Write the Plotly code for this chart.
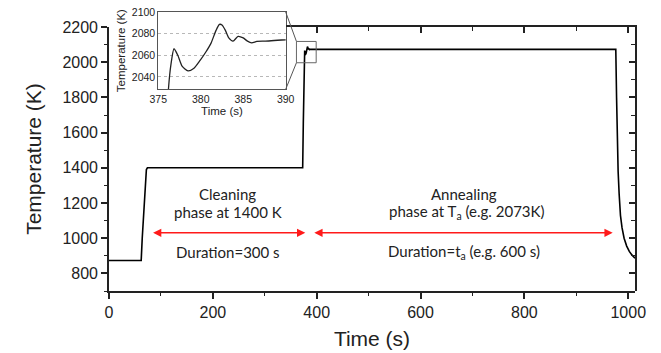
import plotly.graph_objects as go

# ---------------- data ----------------
time_s = [0, 62, 64, 72, 74, 373, 374.2, 375.4, 376.2, 376.5, 376.85, 377.3, 377.8,
          378.5, 379.2, 379.9, 380.6, 381.2, 381.8, 382.2, 382.5, 382.9, 383.3,
          383.8, 384.4, 385.0, 385.5, 386.0, 386.6, 387.5, 976, 977.5, 979, 980.5,
          982.5, 985, 988, 992, 997, 1002, 1007, 1013]
temp_k = [873, 873, 1000, 1390, 1400, 1400, 1650, 1900, 2029, 2052, 2066, 2060, 2050,
          2045.5, 2048, 2055, 2063, 2071, 2083, 2088.5, 2088, 2083, 2076,
          2073, 2077.5, 2076, 2073, 2071.5, 2072.8, 2073, 2073, 1800, 1500, 1380,
          1250, 1130, 1060, 1000, 955, 925, 905, 886]

x_ticks = [0, 200, 400, 600, 800, 1000]
y_ticks = [800, 1000, 1200, 1400, 1600, 1800, 2000, 2200]
inset_x_ticks = [375, 380, 385, 390]
inset_y_ticks = [2040, 2060, 2080, 2100]

phase_labels = ["Cleaning", "phase at 1400 K", "Duration=300 s"]
anneal_labels = ["Annealing", "phase at T<sub>a</sub> (e.g. 2073K)",
                 "Duration=t<sub>a</sub> (e.g. 600 s)"]

# ---------------- layout constants ----------------
XR = [0, 1013]
YR = [700, 2200]
XD = [0, 1]
YD = [0, 0.9462]
IXR = [375, 390]
IYR = [2028.5, 2100]
IXD = [0.0937, 0.3359]
IYD = [0.723, 1.0]
BOX = dict(x0=361, x1=399, y0=1997, y1=2118)


def px_x(t):
    return XD[0] + (t - XR[0]) / (XR[1] - XR[0]) * (XD[1] - XD[0])


def px_y(v):
    return YD[0] + (v - YR[0]) / (YR[1] - YR[0]) * (YD[1] - YD[0])


AX = "Liberation Sans"
TXT = "Lato"
LC = "#222222"

fig = go.Figure()
fig.add_trace(go.Scatter(x=time_s, y=temp_k, mode="lines",
                         line=dict(color="black", width=1.6),
                         xaxis="x", yaxis="y", showlegend=False, hoverinfo="skip"))
fig.add_trace(go.Scatter(x=time_s, y=temp_k, mode="lines",
                         line=dict(color="#222", width=1.3, shape="spline", smoothing=0.6),
                         xaxis="x2", yaxis="y2", showlegend=False, hoverinfo="skip"))
# dummy trace for the inside-tick top/right frame axes
fig.add_trace(go.Scatter(x=[None], y=[None], xaxis="x3", yaxis="y3", showlegend=False))

t_cut = XR[0] + (IXD[1] - XD[0]) / (XD[1] - XD[0]) * (XR[1] - XR[0])

fig.update_layout(
    width=661, height=353,
    margin=dict(l=109, r=26, t=12, b=62, autoexpand=False),
    paper_bgcolor="white", plot_bgcolor="rgba(0,0,0,0)",
    xaxis=dict(domain=XD, range=XR, anchor="y", tickvals=x_ticks, automargin=False,
               ticks="outside", ticklen=6, tickwidth=1.5, tickcolor=LC,
               minor=dict(ticks="outside", ticklen=3, tickwidth=1.2, dtick=100, tick0=0, tickcolor=LC),
               showline=True, linewidth=1.6, linecolor=LC, showgrid=False, zeroline=False,
               tickfont=dict(family=AX, size=16, color=LC),
               title=dict(text="Time (s)", font=dict(family=AX, size=21, color=LC), standoff=11)),
    yaxis=dict(domain=YD, range=YR, anchor="x", tickvals=y_ticks, automargin=False,
               ticks="outside", ticklen=6, tickwidth=1.5, tickcolor=LC,
               minor=dict(ticks="outside", ticklen=3, tickwidth=1.2, dtick=100, tick0=0, tickcolor=LC),
               showline=True, linewidth=1.6, linecolor=LC, showgrid=False, zeroline=False,
               tickfont=dict(family=AX, size=16, color=LC),
               title=dict(text="Temperature (K)", font=dict(family=AX, size=21, color=LC), standoff=15)),
    xaxis3=dict(domain=[IXD[1], XD[1]], range=[t_cut, XR[1]], anchor="y3", side="top",
                tick0=0, dtick=200, ticks="inside", ticklen=6, tickwidth=1.5, automargin=False,
                tickcolor=LC,
                minor=dict(ticks="inside", ticklen=4, tickwidth=1.2, dtick=100, tick0=0, tickcolor=LC),
                showticklabels=False, showline=True, linewidth=1.6, linecolor=LC,
                showgrid=False, zeroline=False),
    yaxis3=dict(domain=YD, range=YR, anchor="x3", side="right", automargin=False,
                tickvals=y_ticks, ticks="inside", ticklen=6, tickwidth=1.5, tickcolor=LC,
                minor=dict(ticks="inside", ticklen=4, tickwidth=1.2, dtick=100, tick0=0, tickcolor=LC),
                showticklabels=False, showline=True, linewidth=1.6, linecolor=LC,
                showgrid=False, zeroline=False),
    xaxis2=dict(domain=IXD, range=IXR, anchor="y2", tickvals=inset_x_ticks, ticks="",
                showline=True, mirror=True, linewidth=1, linecolor="#555", automargin=False,
                showgrid=False, zeroline=False,
                tickfont=dict(family=AX, size=10.5, color=LC),
                title=dict(text="Time (s)", font=dict(family=AX, size=11.5, color=LC), standoff=1)),
    yaxis2=dict(domain=IYD, range=IYR, anchor="x2", tickvals=inset_y_ticks, ticks="",
                showline=True, mirror=True, linewidth=1, linecolor="#555", automargin=False,
                showgrid=True, gridcolor="#b8b8b8", griddash="dot", gridwidth=1, zeroline=False,
                tickfont=dict(family=AX, size=10.5, color=LC),
                title=dict(text="Temperature (K)", font=dict(family=AX, size=11.5, color=LC), standoff=3)),
)

# zoom box in main axes and connector lines to the inset
fig.add_shape(type="rect", xref="x", yref="y", line=dict(color="#666", width=1), **BOX)
fig.add_shape(type="line", xref="paper", yref="paper",
              x0=IXD[1], y0=IYD[1], x1=px_x(BOX["x0"]), y1=px_y(BOX["y1"]),
              line=dict(color="#555", width=1))
fig.add_shape(type="line", xref="paper", yref="paper",
              x0=IXD[1], y0=IYD[0], x1=px_x(BOX["x0"]), y1=px_y(BOX["y0"]),
              line=dict(color="#555", width=1))

# red duration arrows
arrow_y = 1031
for (a, b) in [(82, 378), (392.5, 970)]:
    fig.add_annotation(x=b, y=arrow_y, ax=a, ay=arrow_y, xref="x", yref="y",
                       axref="x", ayref="y", text="", showarrow=True,
                       arrowside="end+start", arrowhead=2, arrowsize=1.1,
                       arrowwidth=1.5, arrowcolor="#ff1a1a")

label_y = [1252, 1150, 919]
for lab, yv in zip(phase_labels, label_y):
    fig.add_annotation(x=229, y=yv, xref="x", yref="y", text=lab, showarrow=False,
                       font=dict(family=TXT, size=15, color=LC))
for lab, yv, xv in zip(anneal_labels, label_y, [683, 688, 683]):
    fig.add_annotation(x=xv, y=yv, xref="x", yref="y", text=lab, showarrow=False,
                       font=dict(family=TXT, size=15, color=LC))

fig.write_html("out.html")
